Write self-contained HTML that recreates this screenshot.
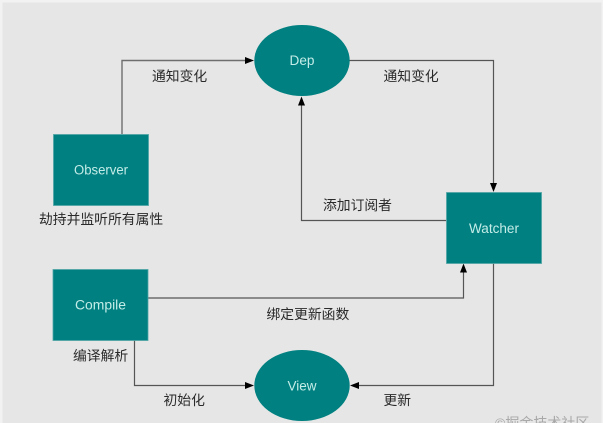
<!DOCTYPE html>
<html><head><meta charset="utf-8">
<style>
html,body{margin:0;padding:0;background:#fff;width:603px;height:423px;overflow:hidden}
svg{display:block;filter:blur(0.35px)}
.c{font-family:"Liberation Sans","Noto Sans CJK SC",sans-serif;font-size:13.8px;fill:#2a2a2a}
.n{font-family:"Liberation Sans",sans-serif;font-size:13.5px;fill:#c4ece8;text-anchor:middle}
.l{fill:none;stroke:#555;stroke-width:1.2}
</style></head><body>
<svg width="603" height="423" viewBox="0 0 603 423" xmlns="http://www.w3.org/2000/svg">
<rect x="0" y="0" width="603" height="423" fill="#f2f2f2"/>
<rect x="2.5" y="2.5" width="599" height="421" fill="#e6e6e6"/>

<path class="l" d="M122 134V60.500H245" style="stroke:#6e6e6e;stroke-width:1.4"/>
<path d="M254 60.500l-9-3.500v7z" fill="#000"/>
<path class="l" d="M349 60.500H493.500V184"/>
<path d="M493.500 192l-3.500-9h7z" fill="#000"/>
<path class="l" d="M446 220.500H301.500V105"/>
<path d="M301.500 96.500l-3.500 9h7z" fill="#000"/>
<path class="l" d="M148 298H463.500V272"/>
<path d="M463.500 263.500l-3.500 9h7z" fill="#000"/>
<path class="l" d="M134.500 340V385.500H245"/>
<path d="M254 385.500l-9-3.500v7z" fill="#000"/>
<path class="l" d="M493.500 263V385.500H359"/>
<path d="M350 385.500l9-3.500v7z" fill="#000"/>

<rect x="53.500" y="134.500" width="95" height="71" fill="#008080" stroke="#4fa5a5" stroke-width="0.8"/>
<rect x="446.500" y="192.500" width="95" height="71" fill="#008080" stroke="#4fa5a5" stroke-width="0.8"/>
<rect x="53" y="269.500" width="95" height="71" fill="#008080" stroke="#4fa5a5" stroke-width="0.8"/>
<ellipse cx="302" cy="60.500" rx="47.700" ry="35.500" fill="#008080"/>
<ellipse cx="302" cy="385.500" rx="47.700" ry="35.500" fill="#008080"/>

<text class="n" x="101" y="174.500" textLength="54" lengthAdjust="spacingAndGlyphs">Observer</text>
<text class="n" x="302" y="65" textLength="25" lengthAdjust="spacingAndGlyphs">Dep</text>
<text class="n" x="494" y="233" textLength="50" lengthAdjust="spacingAndGlyphs">Watcher</text>
<text class="n" x="100.500" y="309.500" textLength="51" lengthAdjust="spacingAndGlyphs">Compile</text>
<text class="n" x="302" y="390.500" textLength="29" lengthAdjust="spacingAndGlyphs">View</text>

<text class="c" x="152" y="81">通知变化</text>
<text class="c" x="383.500" y="81">通知变化</text>
<text class="c" x="323" y="210">添加订阅者</text>
<text class="c" x="39" y="224">劫持并监听所有属性</text>
<text class="c" x="266.500" y="319">绑定更新函数</text>
<text class="c" x="73" y="360.500">编译解析</text>
<text class="c" x="163.500" y="405">初始化</text>
<text class="c" x="383.500" y="405">更新</text>
<text x="495" y="428" font-family="'Liberation Sans','Noto Sans CJK SC',sans-serif" font-size="14" fill="#a8a8a8">©掘金技术社区</text>
</svg>
</body></html>
